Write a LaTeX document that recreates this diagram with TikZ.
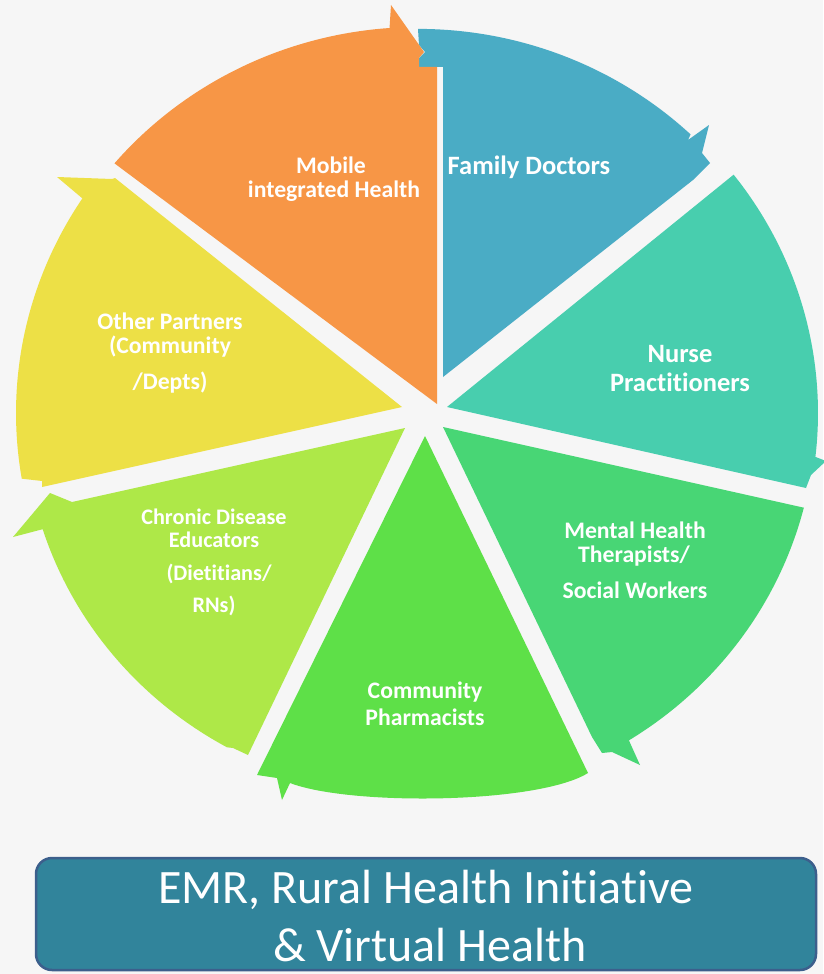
\documentclass[tikz,border=0pt]{standalone}
\usepackage{fontspec}
\setmainfont{Carlito}[Ligatures=NoCommon]
\definecolor{cBlue}{RGB}{74,172,197}
\definecolor{cTeal}{RGB}{72,206,174}
\definecolor{cMent}{RGB}{72,214,117}
\definecolor{cPharm}{RGB}{94,224,72}
\definecolor{cChron}{RGB}{174,232,72}
\definecolor{cYell}{RGB}{237,224,70}
\definecolor{cOran}{RGB}{247,150,70}
\definecolor{bgc}{RGB}{246,246,246}
\definecolor{boxf}{RGB}{49,132,155}
\definecolor{boxb}{RGB}{60,95,140}
\begin{document}
\begin{tikzpicture}[x=1pt,y=-1pt,
  lab/.style={text=white,inner sep=0pt,font=\bfseries\fontsize{23.7}{28}\selectfont},
  labbig/.style={lab,font=\bfseries\fontsize{26.5}{31}\selectfont},
  labsmall/.style={lab,font=\bfseries\fontsize{22.2}{26}\selectfont},
  boxtxt/.style={text=white,inner sep=0pt,font=\fontsize{48}{55}\selectfont}]
\useasboundingbox (0,0) rectangle (823,974);
\fill[bgc] (0,0) rectangle (823,974);
% Family Doctors
\fill[cBlue] (443,377) -- (443,67) -- (419,67) -- (419,58) -- (425,52) -- (419,45)
  -- ([shift={(418,413)}]-90:396 and 384.1) arc[start angle=-90,end angle=-46.5,x radius=396,y radius=384.1]
  -- (688,140) -- (709,125) -- (702,153) -- (710,163) -- (693,180) -- cycle;
% Nurse Practitioners
\fill[cTeal] (447,407) -- ([shift={(418,413)}]-37.9:400 and 388) arc[start angle=-37.9,end angle=6.5,x radius=400,y radius=388]
  -- (826,461) -- (811,475) -- (806,488) -- cycle;
% Mental Health
\fill[cMent] (443,427) -- ([shift={(418,413)}]14.2:398 and 386) arc[start angle=14.2,end angle=58,x radius=398,y radius=386]
  -- (640,765) -- (612,752) -- (602,753) -- (592,737) -- cycle;
% Pharmacists
\fill[cPharm] (425,436) -- (588,773) .. controls (538,804) and (350,806) .. (290,783)
  -- (282,800) -- (277,778) -- (257,775) -- cycle;
% Chronic
\fill[cChron] (405,428) -- (248,755) -- (233,748)
  -- ([shift={(418,413)}]119:394 and 382.2) arc[start angle=119,end angle=162.3,x radius=394,y radius=382.2]
  -- (13,537) -- (50,493) -- (72,502) -- cycle;
% Other partners
\fill[cYell] (402,407) -- (42,487) -- (42,481)
  -- ([shift={(418,413)}]170.3:402 and 389.9) arc[start angle=170.3,end angle=213.4,x radius=402,y radius=389.9]
  -- (57,177) -- (112,179) -- (115,178) -- cycle;
% Mobile
\fill[cOran] (437,404) -- ([shift={(418,413)}]220.3:398 and 386) arc[start angle=220.3,end angle=265.9,x radius=398,y radius=386]
  -- (391,5) -- (424,52) -- (419,58) -- (419,67) -- (437,67) -- cycle;
% labels
\node[lab] (mob1) at (331,165) {Mobile};
\node[lab] (mob2) at (334,191) {integrated Health};
\node[labbig] (fd) at (529,167) {Family Doctors};
\node[labbig] (np1) at (680,354) {Nurse};
\node[labbig] (np2) at (680,382) {Practitioners};
\node[lab] (mh1) at (635,530) {Mental Health};
\node[lab] (mh2) at (634,556) {Therapists/};
\node[lab] (mh3) at (635,590) {Social Workers};
\node[lab] (cp1) at (425,692) {Community};
\node[lab] (cp2) at (425,717) {Pharmacists};
\node[labsmall] (cd1) at (214,517) {Chronic Disease};
\node[labsmall] (cd2) at (214,540) {Educators};
\node[labsmall] (cd3) at (219,574) {(Dietitians/};
\node[labsmall] (cd4) at (214,606) {RNs)};
\node[lab] (op1) at (170,321) {Other Partners};
\node[lab] (op2) at (170,347) {(Community};
\node[lab] (op3) at (170,383) {/Depts)};
% bottom box
\node[draw=boxb,line width=2.5pt,fill=boxf,rounded corners=16pt,minimum width=780pt,minimum height=112pt,inner sep=0pt] (box) at (426,914) {};
\node[boxtxt] (b1) at (426,890) {EMR, Rural Health Initiative};
\node[boxtxt] (b2) at (430,945) {\& Virtual Health};
\end{tikzpicture}
\end{document}
